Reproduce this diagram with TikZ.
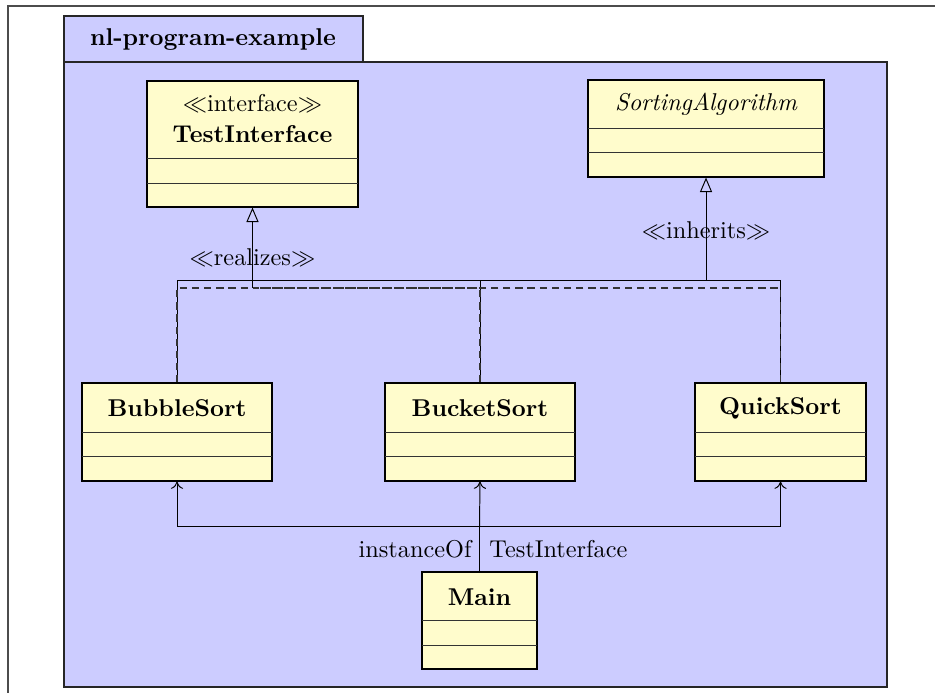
\documentclass[tikz,border=0pt]{standalone}
\usetikzlibrary{arrows.meta,fit}

\tikzset{
  pkgbox/.style={draw=black!85, fill=blue!20, line width=0.45pt, inner sep=0pt},
  classbox/.style={draw=black, fill=yellow!20, line width=0.45pt, inner sep=0pt},
  sepline/.style={draw=black!80, line width=0.4pt},
  classname/.style={font=\bfseries, inner sep=0pt},
  conn/.style={draw=black, line width=0.4pt},
  realconn/.style={draw=black!80, line width=0.45pt, dash pattern=on 3pt off 2pt},
  gentip/.style={-{Triangle[open, length=6pt, width=5pt]}},
  usetip/.style={-{To[length=3pt, width=5pt]}},
  stereo/.style={inner sep=1pt}
}

\begin{document}
\begin{tikzpicture}[x=0.4115pt, y=-0.4115pt]
  \useasboundingbox (0,0) rectangle (935,693);

  % outer frame (runs off the page to the right and below)
  \draw[black!70, line width=0.6pt] (935,6) -- (8,6) -- (8,693);

  % package with its tab
  \node[pkgbox, fit={(64,62) (887,687)}] (pkgBody) {};
  \node[pkgbox, fit={(64,16) (363,62)}] (pkgTab) {};
  \node[classname] (pkgName) at (213,40) {nl-program-example};

  % TestInterface
  \node[classbox, fit={(147,81) (358,207)}] (iface) {};
  \draw[sepline] (147,158) -- (358,158);
  \draw[sepline] (147,183) -- (358,183);
  \node[stereo] (ifaceStereo) at (252.5,103) {$\ll$interface$\gg$};
  \node[classname] (ifaceName) at (252.5,134) {TestInterface};

  % SortingAlgorithm
  \node[classbox, fit={(588,80) (824,177)}] (sorting) {};
  \draw[sepline] (588,128) -- (824,128);
  \draw[sepline] (588,152) -- (824,152);
  \node[inner sep=0pt] (sortingName) at (706,104) {\itshape SortingAlgorithm};

  % BubbleSort
  \node[classbox, fit={(82,383) (272,481)}] (bubble) {};
  \draw[sepline] (82,432) -- (272,432);
  \draw[sepline] (82,456) -- (272,456);
  \node[classname] (bubbleName) at (177,408) {BubbleSort};

  % BucketSort
  \node[classbox, fit={(385,383) (575,481)}] (bucket) {};
  \draw[sepline] (385,432) -- (575,432);
  \draw[sepline] (385,456) -- (575,456);
  \node[classname] (bucketName) at (480,408) {BucketSort};

  % QuickSort
  \node[classbox, fit={(695,383) (866,481)}] (quick) {};
  \draw[sepline] (695,432) -- (866,432);
  \draw[sepline] (695,456) -- (866,456);
  \node[classname] (quickName) at (780.5,408) {QuickSort};

  % Main
  \node[classbox, fit={(422,572) (537,669)}] (main) {};
  \draw[sepline] (422,620) -- (537,620);
  \draw[sepline] (422,645) -- (537,645);
  \node[classname] (mainName) at (479.5,597) {Main};

  % generalization to SortingAlgorithm
  \coordinate (inhJoin) at (706,280);
  \draw[conn] (bubble.north) |- (inhJoin);
  \draw[conn] (bucket.north) |- (inhJoin);
  \draw[conn] (quick.north) |- (inhJoin);
  \draw[conn, gentip] (inhJoin) -- (sorting.south);
  \node[stereo] (inhLabel) at (706,231) {$\ll$inherits$\gg$};

  % realization of TestInterface (dashed, drawn over the solid lines)
  \coordinate (realJoin) at (252.5,288);
  \draw[realconn] (bubble.north) |- (realJoin);
  \draw[realconn] (bucket.north) |- (realJoin);
  \draw[realconn] (quick.north) |- (realJoin);
  \draw[conn, gentip] (realJoin) -- (iface.south);
  \draw[realconn, draw=black] (realJoin) -- ([yshift=-6pt]iface.south);
  \node[stereo] (realLabel) at (252.5,258) {$\ll$realizes$\gg$};

  % Main uses the sorting classes
  \coordinate (mainJoin) at (479.5,526);
  \draw[conn] (main.north) -- (mainJoin);
  \draw[conn, usetip] (mainJoin) -- (bucket.south);
  \draw[conn, usetip] (mainJoin) -| (bubble.south);
  \draw[conn, usetip] (mainJoin) -| (quick.south);
  \node[anchor=east, inner sep=0pt] (instLabel) at (472,549) {instanceOf};
  \node[anchor=west, inner sep=0pt] (tiLabel) at (489,549) {TestInterface};
\end{tikzpicture}
\end{document}
